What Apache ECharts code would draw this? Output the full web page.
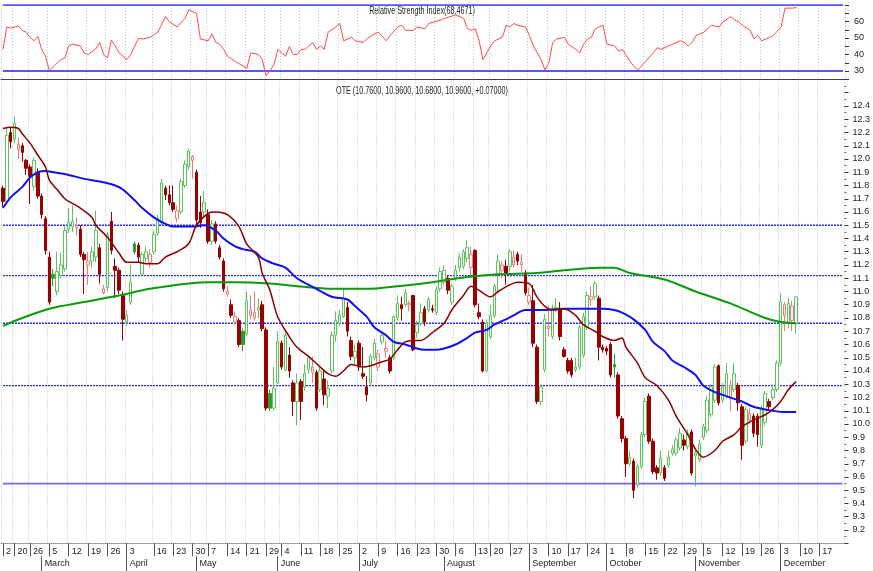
<!DOCTYPE html>
<html><head><meta charset="utf-8">
<script src="https://cdn.jsdelivr.net/npm/echarts/dist/echarts.min.js"></script>
<style>html,body{margin:0;padding:0;background:#fff}#c{width:873px;height:571px}</style>
</head><body><div id="c"></div>
<script>
const FONT = '"Liberation Sans",Arial,sans-serif';

// trading calendar (category axis)
const tradingDays = {
  Feb:[14,15,16,20,21,22,23,26,27,28],
  Mar:[1,2,5,6,7,8,9,12,13,14,15,16,19,20,21,22,23,26,27,28,29,30],
  Apr:[3,4,5,10,11,12,13,16,17,18,19,20,23,24,25,26,27,30],
  May:[2,3,4,7,8,9,10,11,14,15,16,17,18,21,22,23,24,25,29,30,31],
  Jun:[1,4,5,6,7,8,11,12,13,14,15,18,19,20,21,22,25,26,27,28,29],
  Jul:[2,3,4,5,6,9,10,11,12,13,16,17,18,19,20,23,24,25,26,27,30,31],
  Aug:[1,2,3,6,7,8,9,10,13,14,16,17,20,21,22,23,24,27,28,29,30,31],
  Sep:[3,4,5,6,7,10,11,12,13,14,17,18,19,20,21,24,25,26,27,28],
  Oct:[1,2,3,4,5,8,9,10,11,12,15,16,17,18,19,22,23,24,25,26,29,30,31],
  Nov:[1,2,5,6,7,8,9,12,13,14,15,16,19,20,21,22,23,26,27,28,29,30],
  Dec:[3,4,5,6,7,10,11,12,13,14,17,18,19,20,21,24,27]
};
const categories = [];
Object.keys(tradingDays).forEach(m => tradingDays[m].forEach(d => categories.push(m + ' ' + d)));

// week tick labels (index into categories, text)
const weekTickIdx  = [0,3,7,12,17,22,27,32,39,44,49,53,58,63,68,72,77,82,87,92,97,102,107,112,117,122,126,131,136,141,146,151,156,161,166,171,176,181,186,191,196,201,206,211];
const weekTickText = ['2','20','26','5','12','19','26','3','16','23','30','7','14','21','29','4','11','18','25','2','9','16','23','30','6','13','20','27','3','10','17','24','1','8','15','22','29','5','12','19','26','3','10','17'];
const monthTickIdx  = [10,32,50,71,92,114,136,156,179,201];
const monthTickText = ['March','April','May','June','July','August','September','October','November','December'];

// candles: [open, close, low, high]
const candles = [
[11.78,11.68,11.64,11.80],[11.68,12.18,11.66,12.24],[12.20,12.13,12.08,12.24],[12.15,12.27,12.12,12.32],[12.07,12.11,12.00,12.16],
[12.10,12.05,11.98,12.12],[11.99,11.93,11.88,12.00],[11.94,11.87,11.66,11.96],[11.79,11.99,11.76,12.01],[11.90,11.72,11.70,11.93],
[11.72,11.58,11.55,11.74],[11.55,11.31,11.28,11.57],[11.26,10.92,10.90,11.30],[11.13,11.10,11.04,11.17],[11.00,11.15,10.97,11.30],
[11.12,11.20,11.10,11.29],[11.17,11.46,11.15,11.49],[11.47,11.52,11.44,11.63],[11.49,11.53,11.45,11.65],[11.48,11.50,11.42,11.56],
[11.47,11.28,11.26,11.50],[11.28,11.24,10.98,11.30],[11.20,11.23,11.05,11.30],[11.23,11.30,11.18,11.34],[11.26,11.46,11.22,11.61],
[11.33,11.13,11.06,11.36],[10.99,11.02,10.98,11.05],[11.03,11.43,11.00,11.45],[11.53,11.31,11.28,11.60],[11.19,11.16,10.95,11.25],
[11.16,11.01,10.98,11.18],[10.97,10.79,10.63,11.00],[10.77,10.82,10.74,10.86],[10.92,11.07,10.90,11.20],[11.36,11.30,11.28,11.38],
[11.35,11.26,11.22,11.37],[11.13,11.28,11.12,11.30],[11.25,11.30,11.22,11.34],[11.22,11.28,11.18,11.32],[11.30,11.43,11.28,11.46],
[11.44,11.55,11.42,11.58],[11.52,11.82,11.50,11.85],[11.78,11.73,11.69,11.80],[11.73,11.67,11.65,11.80],[11.67,11.62,11.60,11.80],
[11.55,11.61,11.52,11.65],[11.60,11.83,11.58,11.85],[11.80,11.96,11.78,11.99],[11.94,12.06,11.92,12.08],[11.99,12.02,11.85,12.03],
[11.90,11.54,11.50,11.92],[11.60,11.52,11.48,11.72],[11.60,11.67,11.55,11.76],[11.58,11.38,11.36,11.62],[11.38,11.51,11.35,11.54],
[11.51,11.38,11.36,11.53],[11.33,11.26,11.24,11.35],[11.23,11.02,11.00,11.25],[10.98,11.00,10.96,11.04],[10.90,10.82,10.80,10.94],
[10.77,10.81,10.75,10.85],[10.78,10.60,10.58,10.80],[10.70,10.60,10.55,10.72],[10.68,10.93,10.66,11.00],[10.82,10.86,10.79,10.97],
[10.80,10.84,10.78,11.00],[10.86,10.88,10.80,10.95],[10.90,10.72,10.70,10.93],[10.71,10.12,10.10,10.73],[10.23,10.12,10.10,10.26],
[10.12,10.27,10.10,10.43],[10.31,10.62,10.30,10.70],[10.61,10.43,10.41,10.63],[10.41,10.67,10.40,10.71],[10.52,10.40,10.35,10.58],
[10.31,10.17,10.06,10.33],[10.17,10.31,9.99,10.38],[10.32,10.17,10.03,10.34],[10.28,10.38,10.25,10.45],[10.41,10.50,10.38,10.52],
[10.39,10.43,10.31,10.51],[10.39,10.12,10.10,10.41],[10.26,10.40,10.24,10.44],[10.34,10.22,10.14,10.40],[10.21,10.27,10.12,10.33],
[10.40,10.67,10.38,10.70],[10.67,10.78,10.62,10.85],[10.76,10.82,10.74,10.86],[10.81,10.95,10.80,11.02],[10.88,10.70,10.66,10.92],
[10.63,10.51,10.48,10.66],[10.50,10.55,10.45,10.60],[10.61,10.43,10.40,10.63],[10.38,10.36,10.34,10.58],[10.28,10.22,10.17,10.36],
[10.31,10.51,10.28,10.53],[10.50,10.61,10.48,10.64],[10.43,10.53,10.40,10.56],[10.62,10.67,10.60,10.70],[10.55,10.57,10.50,10.63],
[10.50,10.40,10.38,10.52],[10.50,10.81,10.48,10.82],[10.80,10.91,10.78,10.97],[10.90,10.87,10.78,10.96],[10.90,10.99,10.88,11.02],
[10.90,10.91,10.85,10.93],[10.97,10.56,10.55,10.97],[10.69,10.75,10.65,10.78],[10.76,10.84,10.74,10.91],[10.87,10.77,10.74,10.89],
[10.86,10.94,10.84,10.96],[10.87,10.86,10.84,10.90],[10.84,11.01,10.82,11.04],[11.02,11.15,11.00,11.18],[11.07,11.16,11.05,11.20],
[11.10,11.01,10.98,11.12],[10.92,11.04,10.90,11.06],[11.10,11.16,11.08,11.20],[11.18,11.26,11.15,11.29],[11.19,11.30,11.17,11.32],
[11.25,11.33,11.22,11.39],[11.18,11.28,11.10,11.34],[11.31,10.90,10.88,11.32],[10.84,10.81,10.79,10.91],[10.77,10.40,10.39,10.79],
[10.40,10.76,10.39,10.79],[10.66,10.82,10.64,10.90],[10.82,11.04,10.80,11.06],[11.13,11.23,11.00,11.28],[11.16,11.20,11.10,11.23],
[11.19,11.14,11.05,11.24],[11.19,11.30,11.15,11.32],[11.20,11.26,11.18,11.31],[11.28,11.23,11.20,11.30],[11.20,11.22,11.15,11.28],
[11.14,10.99,10.97,11.16],[10.92,10.97,10.90,11.03],[10.93,10.61,10.58,11.05],[10.58,10.17,10.15,10.60],[10.17,10.28,10.14,10.30],
[10.41,10.79,10.39,10.83],[10.72,10.74,10.66,10.89],[10.66,10.87,10.64,10.90],[10.86,10.88,10.84,10.95],[10.87,10.66,10.63,10.92],
[10.56,10.51,10.50,10.58],[10.48,10.40,10.38,10.50],[10.48,10.37,10.35,10.50],[10.41,10.43,10.39,10.50],[10.43,10.73,10.41,10.75],
[10.52,10.81,10.50,10.84],[10.73,10.97,10.71,11.00],[10.94,10.96,10.89,11.04],[10.96,11.06,10.94,11.08],[10.95,10.58,10.48,10.97],
[10.58,10.56,10.54,10.60],[10.57,10.55,10.52,10.59],[10.60,10.37,10.35,10.62],[10.45,10.43,10.35,10.53],[10.37,10.06,10.04,10.39],
[10.04,9.89,9.86,10.06],[9.89,9.70,9.60,9.91],[9.70,9.75,9.68,9.80],[9.72,9.50,9.44,9.74],[9.54,9.68,9.52,9.70],
[9.68,9.92,9.66,9.94],[9.92,10.17,9.90,10.20],[10.21,9.87,9.85,10.23],[9.87,9.64,9.62,9.89],[9.67,9.63,9.58,9.69],
[9.63,9.74,9.61,9.80],[9.67,9.59,9.57,9.69],[9.69,9.75,9.67,9.80],[9.78,9.81,9.76,9.84],[9.78,9.88,9.76,9.90],
[9.82,9.93,9.80,9.97],[9.88,9.84,9.80,9.92],[9.83,9.93,9.81,9.96],[9.94,9.63,9.61,9.96],[9.76,9.78,9.53,9.82],
[9.73,9.85,9.71,9.88],[9.90,9.98,9.88,10.00],[9.95,10.18,9.93,10.21],[10.07,10.28,10.05,10.30],[10.18,10.43,10.16,10.45],
[10.44,10.16,10.14,10.45],[10.18,10.28,10.16,10.31],[10.21,10.38,10.19,10.46],[10.19,10.29,10.10,10.33],[10.26,10.38,10.24,10.46],
[10.29,10.16,10.10,10.31],[10.13,9.84,9.73,10.15],[9.87,10.11,9.85,10.13],[10.03,10.08,10.00,10.12],[10.06,9.93,9.90,10.08],
[10.06,9.92,9.83,10.08],[9.84,10.12,9.82,10.14],[10.01,10.23,9.99,10.25],[10.17,10.13,10.10,10.19],[10.20,10.26,10.18,10.30],
[10.26,10.46,10.24,10.48],[10.46,10.92,10.44,10.99],[10.82,10.90,10.70,10.92],[10.76,10.91,10.72,10.95],[10.78,10.89,10.70,10.93],
[10.76,10.96,10.68,10.96]
];

// moving averages: [categoryIndex, value]
const maShort = [[0,12.23],[2,12.24],[4,12.23],[5,12.19],[7,12.12],[9,12.03],[11,11.94],[12,11.84],[14,11.77],[16,11.7],[17,11.68],[20,11.63],[23,11.56],[24,11.5],[27,11.41],[30,11.29],[32,11.22],[35,11.22],[37,11.21],[40,11.21],[42,11.26],[45,11.3],[48,11.36],[50,11.5],[53,11.59],[55,11.6],[58,11.58],[61,11.49],[63,11.36],[66,11.26],[67,11.14],[69,11.01],[71,10.81],[74,10.66],[76,10.58],[79,10.51],[82,10.43],[84,10.38],[86,10.36],[88,10.4],[90,10.45],[93,10.43],[95,10.44],[98,10.47],[100,10.49],[102,10.56],[104,10.62],[107,10.63],[108,10.63],[111,10.69],[114,10.76],[116,10.86],[119,10.97],[121,11.04],[123,11.01],[126,10.96],[128,11.0],[131,11.05],[133,11.07],[136,11.06],[138,10.96],[140,10.89],[142,10.86],[145,10.87],[148,10.82],[150,10.75],[153,10.7],[155,10.66],[158,10.63],[160,10.65],[161,10.58],[164,10.46],[166,10.35],[169,10.29],[172,10.18],[174,10.06],[177,9.92],[179,9.81],[181,9.75],[184,9.8],[186,9.87],[189,9.92],[191,9.98],[194,10.03],[197,10.07],[199,10.11],[201,10.17],[203,10.26],[205,10.32]];
const maMid = [[0,11.63],[2,11.71],[5,11.79],[7,11.86],[9,11.9],[11,11.91],[13,11.9],[17,11.88],[21,11.85],[25,11.83],[29,11.8],[31,11.77],[34,11.69],[36,11.63],[39,11.56],[42,11.51],[44,11.49],[47,11.49],[49,11.49],[52,11.5],[55,11.46],[57,11.4],[60,11.34],[62,11.32],[65,11.3],[67,11.25],[70,11.21],[73,11.18],[76,11.1],[81,11.02],[85,10.96],[89,10.94],[91,10.89],[94,10.81],[96,10.73],[99,10.67],[101,10.62],[104,10.6],[107,10.57],[109,10.56],[112,10.56],[114,10.57],[117,10.6],[120,10.65],[122,10.69],[125,10.71],[127,10.75],[130,10.79],[132,10.82],[135,10.86],[139,10.86],[145,10.87],[150,10.87],[155,10.87],[158,10.86],[160,10.84],[163,10.79],[166,10.71],[168,10.62],[171,10.55],[173,10.48],[176,10.43],[179,10.37],[181,10.29],[184,10.24],[186,10.22],[189,10.19],[191,10.17],[194,10.13],[197,10.11],[199,10.1],[202,10.09],[205,10.09]];
const maLong = [[0,10.74],[5,10.8],[12,10.87],[21,10.92],[30,10.97],[38,11.02],[48,11.06],[53,11.07],[60,11.07],[69,11.06],[76,11.04],[85,11.02],[94,11.02],[102,11.04],[111,11.07],[120,11.11],[128,11.13],[138,11.14],[145,11.16],[154,11.18],[158,11.18],[162,11.14],[171,11.09],[179,11.0],[188,10.91],[197,10.8],[201,10.77],[205,10.76]];

// RSI: [categoryIndex, value]
const rsi = [[0,43],[1,56.7],[2,56],[4,57.3],[5,54.6],[6,53.5],[7,50.4],[8,48.3],[9,51],[10,43.1],[11,39],[12,30],[14,34.8],[15,36.9],[16,37.9],[17,45.2],[18,46.3],[20,45.2],[21,41],[22,40],[24,43.5],[25,47.3],[26,40],[27,37.9],[28,48.8],[29,45.2],[30,41],[32,36.9],[33,40],[35,49.8],[36,49.4],[38,50.4],[40,53.5],[42,62.9],[43,59.8],[45,56.7],[47,61.9],[48,67.1],[50,65],[51,49.4],[53,48.3],[54,52.5],[55,47.3],[56,46.3],[57,43.1],[58,39],[60,35.8],[61,34.4],[63,31.7],[64,41],[66,40],[67,36.9],[68,27],[70,33.8],[71,43.1],[72,41],[73,39],[74,44.8],[75,40],[76,40],[77,43.1],[78,43.1],[80,47.3],[81,43.1],[82,45.2],[83,43.1],[84,53.5],[86,56.7],[87,58.8],[88,48.3],[90,50.4],[91,48.3],[93,47.3],[94,49.4],[96,52.5],[97,53.5],[99,48.3],[100,51.5],[102,56.7],[103,57.7],[104,54.6],[106,54.6],[107,56.7],[109,55.6],[110,58.8],[113,60.8],[114,61.9],[117,64],[119,61.9],[120,55.6],[121,54.6],[122,55.6],[123,48.3],[124,36.9],[126,45.2],[127,48.3],[129,50.4],[130,57.7],[131,56.7],[132,58.8],[133,57.7],[135,56.7],[136,51.5],[137,45.2],[139,36.9],[140,30.6],[141,34.8],[142,47.3],[143,49.4],[145,50.4],[146,46.3],[148,43.1],[149,41],[150,46.3],[151,49.4],[152,50.4],[153,55.6],[154,56.7],[155,57.7],[156,46.3],[158,45.2],[159,42.1],[160,43.1],[162,35.8],[163,32.7],[164,30.6],[166,35.8],[168,41],[169,44.2],[170,43.1],[172,45.2],[173,46.3],[175,48.3],[176,47.3],[177,45.2],[178,47.3],[179,51.5],[181,53.5],[182,55.6],[183,57.7],[185,56.7],[186,59.8],[188,62.9],[189,60.8],[190,59.8],[191,57.7],[193,54.6],[194,49.4],[195,51.5],[196,48.3],[198,50.4],[199,51.5],[201,56.7],[202,68.1],[204,68.1],[205,68.5]];

const priceLevels = [11.5, 11.12, 10.76, 10.29];
const supportLevel = 9.55;
const rsiLevels = [70, 30];
const rsiTitle = 'Relative Strength Index(68.4671)';
const priceTitle = 'OTE (10.7600, 10.9600, 10.6800, 10.9600, +0.07000)';

const weekSet = new Set(weekTickIdx);
const monthSet = new Set(monthTickIdx);
const weekText = {}; weekTickIdx.forEach((k, j) => weekText[k] = weekTickText[j]);
const monthText = {}; monthTickIdx.forEach((k, j) => monthText[k] = monthTickText[j]);
const lastIdx = categories.length - 1;

const candleData = candles.map((c, i) => {
  const o = c[0], cl = c[1];
  const prev = i > 0 ? candles[i - 1][1] : o;
  const rising = cl >= prev, hollow = cl >= o;
  const col = rising ? (hollow ? '#5cc45c' : '#2e9e2e') : (hollow ? '#ec7c7c' : '#990000');
  const fill = hollow ? '#ffffff' : col;
  return { value: c, itemStyle: { color: fill, color0: fill, borderColor: col, borderColor0: col, borderWidth: 1 } };
});

const GL = 1, GW = 844;
const vGrid = { show: true, interval: (i) => weekSet.has(i), lineStyle: { type: [1, 2], color: '#c4c4c4', width: 1 } };
const txt = { fontFamily: FONT, fontSize: 9, color: '#222' };

// horizontal level lines drawn as line series between the first and last category
const levelSeries = priceLevels.map((v, k) => ({
  type: 'line', xAxisIndex: 1, yAxisIndex: 1, data: [[0, v], [lastIdx, v]], symbol: 'none', silent: true, z: 1,
  lineStyle: { color: '#2626ff', width: k === 0 ? 1.6 : 1.4, type: [2, 1] }
}));
const rsiLevelSeries = rsiLevels.map(v => ({
  type: 'line', xAxisIndex: 0, yAxisIndex: 0, data: [[0, v], [lastIdx, v]], symbol: 'none', silent: true, z: 2,
  lineStyle: { color: '#2020ee', width: 1.6 }
}));

const chart = echarts.init(document.getElementById('c'), null, { renderer: 'canvas' });
chart.setOption({
  animation: false,
  backgroundColor: '#ffffff',
  grid: [
    { left: GL, width: GW, top: 5, height: 74.25 },
    { left: GL, width: GW, top: 79.5, height: 463.75 }
  ],
  xAxis: [
    { gridIndex: 0, type: 'category', data: categories, boundaryGap: true,
      axisLine: { show: true, lineStyle: { color: '#444', width: 1 } },
      axisTick: { show: false }, axisLabel: { show: false }, splitLine: vGrid },
    { gridIndex: 1, type: 'category', data: categories, boundaryGap: true,
      axisLine: { show: true, lineStyle: { color: '#888', width: 1, type: [1, 1] } },
      axisTick: { show: true, alignWithLabel: true, interval: (i) => weekSet.has(i), length: 13, lineStyle: { color: '#555' } },
      axisLabel: Object.assign({ interval: (i) => weekSet.has(i), formatter: (v, i) => weekText[i] || '', align: 'left', padding: [0, 0, 0, 3], margin: 4 }, txt),
      splitLine: vGrid },
    { gridIndex: 1, type: 'category', data: categories, boundaryGap: true, position: 'bottom', offset: 13,
      axisLine: { show: false },
      axisTick: { show: true, alignWithLabel: true, interval: (i) => monthSet.has(i), length: 15, lineStyle: { color: '#555' } },
      axisLabel: Object.assign({ interval: (i) => monthSet.has(i), formatter: (v, i) => monthText[i] || '', align: 'left', padding: [0, 0, 0, 3], margin: 3 }, txt),
      splitLine: { show: false } }
  ],
  yAxis: [
    { gridIndex: 0, type: 'value', position: 'right', min: 25, max: 70, interval: 5, scale: true,
      axisLine: { show: false }, splitLine: { show: false },
      axisTick: { show: true, length: 4, lineStyle: { color: '#333' } },
      axisLabel: Object.assign({ margin: 9, formatter: (v) => (v % 10 === 0 && v >= 30 && v <= 60) ? String(v) : '' }, txt) },
    { gridIndex: 1, type: 'value', position: 'right', min: 9.1, max: 12.6, interval: 0.1, scale: true,
      axisLine: { show: false }, splitLine: { show: false },
      axisTick: { show: true, length: 4, lineStyle: { color: '#333' } },
      minorTick: { show: true, splitNumber: 2, length: 2, lineStyle: { color: '#666' } },
      axisLabel: Object.assign({ margin: 8, formatter: (v) => (v < 9.15 || v > 12.45) ? '' : v.toFixed(1) }, txt) }
  ],
  graphic: [
    { type: 'text', x: 422, y: 6, scaleX: 0.72, style: { text: rsiTitle, font: '10px ' + FONT, fill: '#222', textAlign: 'center', textVerticalAlign: 'top' } },
    { type: 'text', x: 422, y: 86, scaleX: 0.72, style: { text: priceTitle, font: '10px ' + FONT, fill: '#222', textAlign: 'center', textVerticalAlign: 'top' } }
  ],
  series: levelSeries.concat(rsiLevelSeries, [
    { type: 'line', xAxisIndex: 1, yAxisIndex: 1, data: [[0, supportLevel], [lastIdx, supportLevel]], symbol: 'none', silent: true, z: 1,
      lineStyle: { color: '#6a6aff', width: 1.6, type: 'solid' } },
    { type: 'candlestick', xAxisIndex: 1, yAxisIndex: 1, data: candleData, barWidth: 3, z: 3 },
    { type: 'line', xAxisIndex: 1, yAxisIndex: 1, data: maLong, symbol: 'none', smooth: 0.3, lineStyle: { color: '#0a9a0a', width: 2 }, z: 4 },
    { type: 'line', xAxisIndex: 1, yAxisIndex: 1, data: maMid, symbol: 'none', smooth: 0.3, lineStyle: { color: '#1010f0', width: 2 }, z: 4 },
    { type: 'line', xAxisIndex: 1, yAxisIndex: 1, data: maShort, symbol: 'none', smooth: 0.3, lineStyle: { color: '#8b0000', width: 1.5 }, z: 5 },
    { type: 'line', xAxisIndex: 0, yAxisIndex: 0, data: rsi, symbol: 'none', lineStyle: { color: '#ff4a4a', width: 1 }, z: 3 }
  ])
});
</script></body></html>
